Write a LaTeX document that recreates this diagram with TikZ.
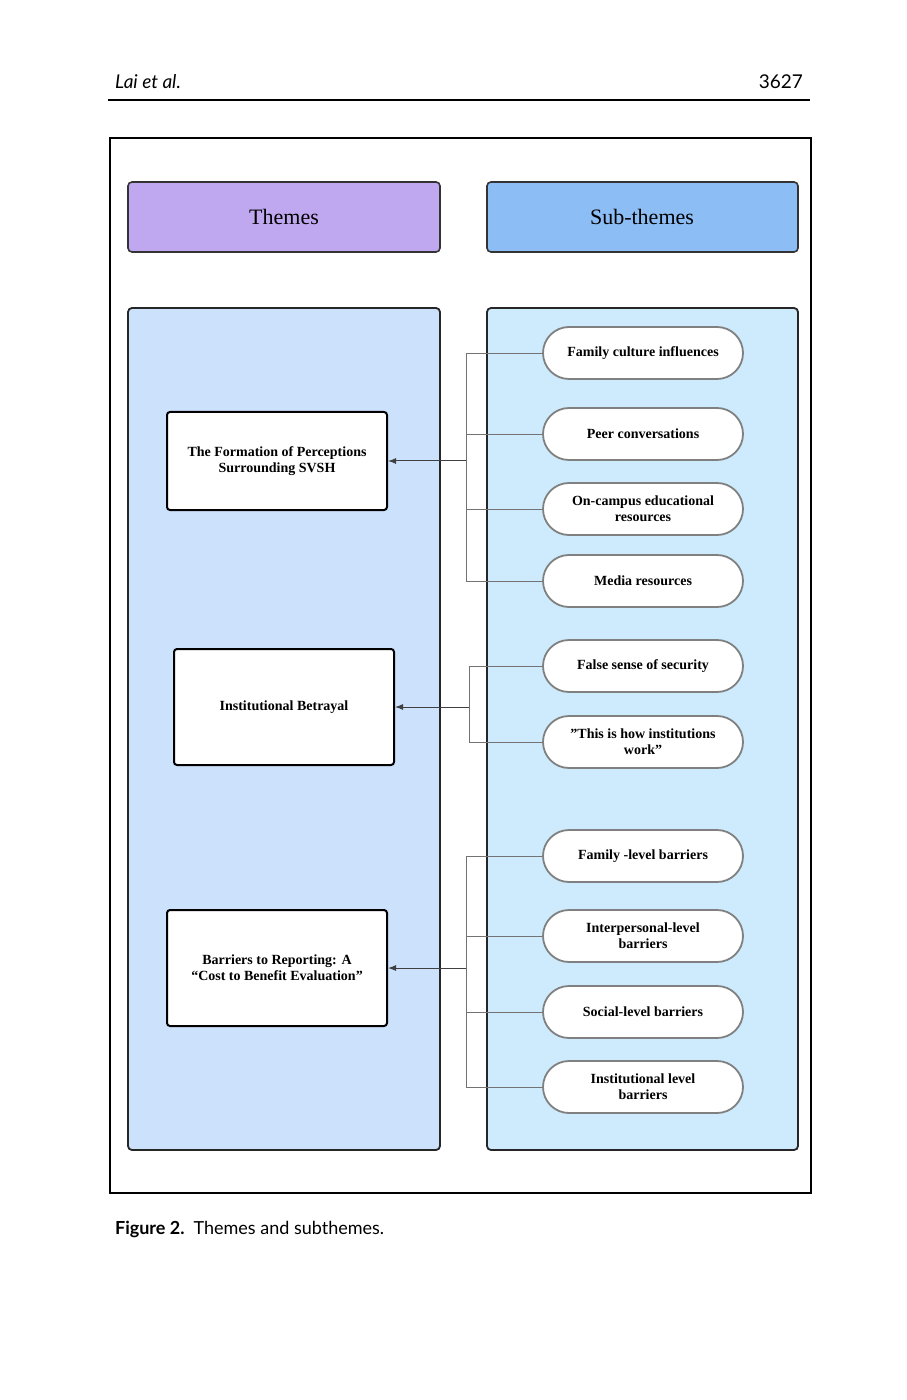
\documentclass[tikz,border=0pt]{standalone}
\usepackage{fontspec}
\setmainfont{Liberation Serif}
\newfontfamily\pagefont{Lato}
\usetikzlibrary{arrows.meta}
\definecolor{themepurple}{HTML}{C0A8F0}
\definecolor{subblue}{HTML}{8DBDF5}
\definecolor{leftpanel}{HTML}{CCE2FC}
\definecolor{rightpanel}{HTML}{CDEBFD}
\begin{document}
\begin{tikzpicture}[x=0.5pt,y=-0.5pt,
  header/.style={draw=black!80,line width=0.8pt,rounded corners=2pt},
  panel/.style={draw=black!85,line width=0.9pt,rounded corners=2pt},
  theme/.style={draw=black,line width=1pt,fill=white,rounded corners=1.5pt,minimum width=110pt,align=center,font=\fontsize{7}{8}\selectfont\bfseries,inner sep=1pt},
  sub/.style={draw=black!50,line width=0.9pt,fill=white,rounded corners=13pt,minimum width=100pt,minimum height=26pt,align=center,font=\fontsize{7}{8}\selectfont\bfseries,inner sep=1pt},
  link/.style={draw=black!55,line width=0.4pt},
  arr/.style={draw=black!75,line width=0.5pt,-{Latex[length=4pt,width=3pt]}}]
\useasboundingbox (0,0) rectangle (906,1400);
\fill[white] (0,0) rectangle (906,1400);

% page header
\node[anchor=base west,font=\pagefont\itshape\fontsize{9.5}{10}\selectfont] (author) at (108,89) {Lai et al.};
\node[anchor=base east,font=\pagefont\fontsize{9.5}{10}\selectfont] (page) at (810,89) {3627};
\draw[line width=0.6pt] (108,100) -- (810,100);

% frame and panels
\draw[line width=0.6pt] (110,138) rectangle (811,1193);
\draw[header,fill=themepurple] (128,182) rectangle (440,252);
\draw[header,fill=subblue] (487,182) rectangle (798,252);
\node[font=\fontsize{11}{12}\selectfont] (themes) at (284,217) {Themes};
\node[font=\fontsize{11}{12}\selectfont] (subthemes) at (642,217) {Sub-themes};
\draw[panel,fill=leftpanel] (128,308) rectangle (440,1150);
\draw[panel,fill=rightpanel] (487,308) rectangle (798,1150);

% themes
\node[theme,minimum height=49pt] (t1) at (277,461) {The Formation of Perceptions\\Surrounding SVSH};
\node[theme,minimum height=58pt] (t2) at (284,707) {Institutional Betrayal};
\node[theme,minimum height=58pt] (t3) at (277,968) {Barriers to Reporting: A\\``Cost to Benefit Evaluation''};

% sub-themes
\node[sub] (s1) at (643,353) {Family culture influences};
\node[sub] (s2) at (643,434) {Peer conversations};
\node[sub] (s3) at (643,509) {On-campus educational\\resources};
\node[sub] (s4) at (643,581) {Media resources};
\node[sub] (s5) at (643,666) {False sense of security};
\node[sub] (s6) at (643,742) {"This is how institutions\\work"};
\node[sub] (s7) at (643,856) {Family -level barriers};
\node[sub] (s8) at (643,936) {Interpersonal-level\\barriers};
\node[sub] (s9) at (643,1012) {Social-level barriers};
\node[sub] (s10) at (643,1087) {Institutional level\\barriers};

% connectors
\coordinate (j1) at (466,461);
\coordinate (j2) at (469,707);
\coordinate (j3) at (466,968);
\foreach \s in {s1,s2,s3,s4} \draw[link] (j1) |- (\s.west);
\foreach \s in {s5,s6} \draw[link] (j2) |- (\s.west);
\foreach \s in {s7,s8,s9,s10} \draw[link] (j3) |- (\s.west);
\draw[arr] (j1) -- (t1.east);
\draw[arr] (j2) -- (t2.east);
\draw[arr] (j3) -- (t3.east);

% caption
\node[anchor=base west,font=\pagefont\fontsize{9}{10}\selectfont] (caption) at (108,1234) {\textbf{Figure 2.}\enspace Themes and subthemes.};
\end{tikzpicture}
\end{document}
